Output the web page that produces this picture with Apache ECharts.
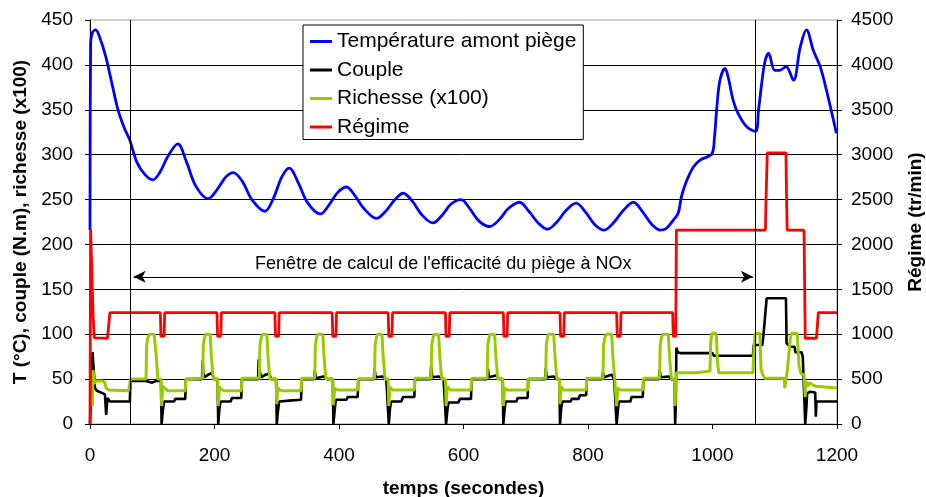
<!DOCTYPE html>
<html>
<head>
<meta charset="utf-8">
<script src="https://cdn.jsdelivr.net/npm/echarts@6/dist/echarts.min.js"></script>
<style>
html,body{margin:0;padding:0;background:#fff;}
#c{width:926px;height:497px;}
</style>
</head>
<body>
<div id="c"></div>
<script>
var seriesNames = ['Température amont piège', 'Couple', 'Richesse (x100)', 'Régime'];
var axisNames = { x: 'temps (secondes)', left: 'T (°C), couple (N.m), richesse (x100)', right: 'Régime (tr/min)' };
var windowBounds = [65, 1069];
var arrowSpan = [70, 1065];
var arrowLevel = 164;
var arrowText = "Fenêtre de calcul de l'efficacité du piège à NOx";

var temperature = [
[0,216],[1,424],[4,436],[9,439],[15,432],[25,410],[35,380],[45,350],[55,330],[64,316],[75,292],[88,278],[101,272],
[112,280],[125,298],[141,312],[155,292],[170,265],[190,251],[205,262],[218,275],[230,280],[245,270],[260,250],
[281,237],[295,252],[308,275],[320,285],[335,268],[350,246],[370,234],[385,245],[398,258],[412,264],[425,255],
[440,240],[460,229],[475,237],[490,250],[503,257],[518,248],[533,233],[551,224],[565,232],[580,245],[596,250],
[610,240],[625,226],[642,220],[658,228],[672,240],[690,247],[705,237],[720,224],[735,217],[750,225],[765,238],
[781,246],[796,236],[811,222],[826,216],[842,225],[857,238],[873,247],[888,236],[903,222],[916,216],[926,218],
[937,227],[945,235],[950,253],[958,270],[969,286],[980,294],[999,301],[1003,318],[1007,353],[1012,383],[1020,396],
[1025,387],[1033,361],[1041,346],[1055,331],[1069,326],[1074,350],[1079,379],[1084,403],[1090,413],[1100,394],
[1108,394],[1118,398],[1130,383],[1141,420],[1151,439],[1162,416],[1173,398],[1183,372],[1199,324]
];

var couple = [
[0,0],[3,0],[4,80],[6,60],[8,40],[11,37],[18,35],[24,33],[26,10],[28,29],[32,25],[64,25],[65,48],[90,48],[92,47],[100,46],[106,48],[114,48],
[115,0],[117,15],[118,20],[119,25],[135,25],[137,28],[153,28],[154,50],[180,50],[181,71],[182,56],[184,52],[190,55],[196,57],[199,50],[205,50],
[206,0],[208,18],[209,22],[210,25],[226,25],[228,29],[243,29],[244,50],[270,50],[271,72],[273,58],[275,52],[282,55],[288,56],[291,50],[299,50],
[300,0],[302,15],[303,20],[304,25],[320,26],[322,27],[339,27],[340,50],[360,50],[361,60],[363,51],[375,53],[382,50],[390,50],
[391,0],[393,15],[394,22],[395,27],[412,27],[414,30],[430,30],[431,50],[456,50],[457,62],[459,52],[470,53],[476,50],[479,50],
[480,0],[482,18],[483,22],[484,25],[500,25],[503,30],[521,30],[522,50],[547,50],[548,64],[550,52],[560,53],[568,50],[571,50],
[572,0],[574,15],[575,20],[576,24],[592,24],[594,28],[612,28],[613,50],[638,50],[639,62],[641,52],[652,54],[658,50],[663,50],
[664,0],[666,16],[667,22],[668,25],[685,25],[687,29],[703,29],[704,50],[731,50],[732,62],[734,52],[745,53],[750,50],[754,50],
[755,0],[757,18],[758,22],[759,25],[772,25],[774,28],[785,28],[787,32],[797,32],[798,50],[823,50],[824,58],[826,52],[838,55],[842,50],[845,50],
[846,0],[848,15],[849,22],[850,25],[868,25],[870,30],[888,30],[889,50],[914,50],[915,60],[917,52],[930,53],[934,50],[939,50],
[940,0],[941,20],[942,85],[944,80],[948,79],[1000,79],[1002,76],[1065,76],[1066,88],[1080,88],[1082,100],[1087,140],[1118,140],
[1119,90],[1125,86],[1132,86],[1133,80],[1143,80],[1145,75],[1148,75],[1149,0],[1151,20],[1152,34],[1157,36],[1160,38],[1165,35],
[1166,8],[1167,25],[1200,25]
];

var richesse = [
[4,20],[5,60],[7,45],[10,48],[20,48],[24,46],[26,40],[30,38],[62,37],[64,38],[65,50],[90,50],[91,88],[93,96],[95,100],[103,100],[106,80],[109,50],[114,50],
[115,20],[117,42],[119,40],[125,37],[153,37],[154,50],[181,51],[182,88],[184,96],[186,100],[193,100],[195,75],[198,50],[205,50],
[206,20],[208,42],[210,39],[216,37],[243,37],[244,51],[272,51],[273,88],[275,96],[277,100],[284,100],[286,75],[289,50],[299,50],
[300,22],[302,41],[304,38],[310,37],[339,37],[340,51],[361,51],[362,88],[364,96],[366,100],[374,100],[376,75],[379,50],[390,50],
[391,21],[393,40],[397,38],[430,38],[431,50],[457,51],[458,88],[460,96],[462,100],[469,100],[471,75],[474,50],[479,50],
[480,20],[482,41],[486,38],[521,38],[522,51],[548,51],[549,88],[551,96],[553,100],[560,100],[562,75],[565,50],[571,50],
[572,20],[574,42],[578,38],[612,38],[613,51],[638,51],[639,88],[641,96],[643,100],[650,100],[652,75],[655,50],[663,50],
[664,20],[666,40],[670,38],[703,38],[704,50],[732,51],[733,88],[735,96],[737,100],[745,100],[747,75],[750,50],[754,50],
[755,22],[757,42],[760,38],[797,38],[798,51],[824,51],[825,88],[827,96],[829,100],[838,100],[840,75],[843,50],[845,50],
[846,20],[848,40],[852,38],[888,38],[889,51],[915,51],[916,88],[918,96],[920,100],[929,100],[931,75],[934,50],[939,50],
[940,20],[941,45],[942,57],[975,57],[977,59],[996,59],[997,90],[999,101],[1006,101],[1008,70],[1010,57],[1065,57],
[1067,90],[1069,101],[1076,101],[1078,62],[1080,56],[1084,51],[1115,51],[1116,40],[1118,40],[1120,58],[1123,60],
[1125,95],[1127,101],[1136,101],[1139,65],[1142,56],[1147,55],[1149,30],[1150,48],[1153,42],[1156,46],[1160,44],
[1166,42],[1168,40],[1200,40]
];

var regime = [
[0,0],[1,2170],[3,2170],[5,1200],[7,960],[28,955],[30,1100],[32,1240],
[113,1240],[114,975],[119,975],[120,1240],[204,1240],[205,975],[210,975],[211,1240],
[297,1240],[298,975],[303,975],[304,1240],[389,1240],[390,975],[395,975],[396,1240],
[479,1240],[480,975],[485,975],[486,1240],[571,1240],[572,975],[577,975],[578,1240],
[664,1240],[665,975],[670,975],[671,1240],[755,1240],[756,975],[761,975],[762,1240],
[846,1240],[847,975],[852,975],[853,1240],[936,1240],[937,975],[941,975],[942,2160],
[1085,2160],[1086,2500],[1088,3020],[1118,3020],[1119,2500],[1120,2160],[1147,2160],
[1149,955],[1167,955],[1170,1240],[1200,1240]
];

var FONT = 'Liberation Sans, Arial, sans-serif';
var chart = echarts.init(document.getElementById('c'), null, {renderer: 'canvas'});
function plain(v){ return String(v); }
var axisBase = {
  axisLine: {show: true, lineStyle: {color: '#000', width: 1}},
  axisTick: {show: true, inside: false, length: 5, lineStyle: {color: '#000'}},
  axisLabel: {color: '#000', fontSize: 19, fontFamily: FONT, formatter: plain},
  nameTextStyle: {color: '#000', fontSize: 19, fontWeight: 'bold', fontFamily: FONT}
};
function mk(o, labelMargin){
  var a = Object.assign({}, axisBase, o);
  a.axisLabel = Object.assign({}, axisBase.axisLabel, {margin: labelMargin});
  return a;
}

chart.setOption({
  animation: false,
  backgroundColor: '#fff',
  grid: {left: 90, right: 89, top: 20, bottom: 73, show: true, borderColor: '#a0a0a0', borderWidth: 1, containLabel: false, outerBoundsMode: 'none'},
  legend: {
    data: seriesNames, orient: 'vertical', left: 303, top: 25,
    backgroundColor: '#fff', borderColor: '#000', borderWidth: 1,
    padding: [6, 7, 2, 7], itemGap: 7.5, itemWidth: 22, itemHeight: 3, icon: 'rect',
    textStyle: {color: '#000', fontSize: 21, fontFamily: FONT}
  },
  xAxis: mk({type: 'value', min: 0, max: 1200, interval: 200, name: axisNames.x, nameLocation: 'middle', nameGap: 55,
    splitLine: {show: false}}, 22),
  yAxis: [
    mk({type: 'value', min: 0, max: 450, interval: 50, position: 'left', name: axisNames.left, nameLocation: 'middle', nameRotate: 90, nameGap: 60,
      splitLine: {show: true, showMaxLine: false, lineStyle: {color: '#000', width: 1}}}, 17),
    mk({type: 'value', min: 0, max: 4500, interval: 500, position: 'right', name: axisNames.right, nameLocation: 'middle', nameRotate: 90, nameGap: 69,
      splitLine: {show: false}}, 14)
  ],
  series: [
    {name: seriesNames[0], type: 'line', data: temperature, yAxisIndex: 0, symbol: 'none', smooth: 0.35,
      lineStyle: {color: '#0000ff', width: 2.8}, itemStyle: {color: '#0000ff'}},
    {name: seriesNames[1], type: 'line', data: couple, yAxisIndex: 0, symbol: 'none',
      lineStyle: {color: '#000000', width: 2.6}, itemStyle: {color: '#000000'},
      markLine: {silent: true, symbol: 'none', animation: false,
        lineStyle: {color: '#000', width: 1, type: 'solid'}, label: {show: false},
        data: [{xAxis: windowBounds[0]}, {xAxis: windowBounds[1]},
          [{coord: [arrowSpan[0], arrowLevel], symbol: 'arrow', symbolSize: [9, 12]},
           {coord: [arrowSpan[1], arrowLevel], symbol: 'arrow', symbolSize: [9, 12],
            label: {show: true, formatter: arrowText, position: 'insideMiddleTop', distance: 4, color: '#000', fontSize: 18, fontFamily: FONT}}]
        ]}},
    {name: seriesNames[2], type: 'line', data: richesse, yAxisIndex: 0, symbol: 'none',
      lineStyle: {color: '#99cc00', width: 3}, itemStyle: {color: '#99cc00'}},
    {name: seriesNames[3], type: 'line', data: regime, yAxisIndex: 1, symbol: 'none',
      lineStyle: {color: '#ff0000', width: 2.8}, itemStyle: {color: '#ff0000'}}
  ]
});
</script>
</body>
</html>
